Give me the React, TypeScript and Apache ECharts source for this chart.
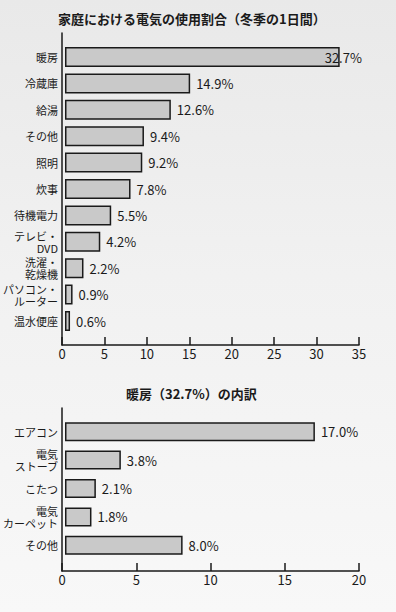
import React, { useEffect, useRef } from "react";
import * as echarts from "echarts";

const title1 = "家庭における電気の使用割合（冬季の1日間）";
const categories1 = ["暖房", "冷蔵庫", "給湯", "その他", "照明", "炊事", "待機電力", "テレビ・\nDVD", "洗濯・\n乾燥機", "パソコン・\nルーター", "温水便座"];
const values1 = [32.7, 14.9, 12.6, 9.4, 9.2, 7.8, 5.5, 4.2, 2.2, 0.9, 0.6];
const axisMax1 = 35;

const title2 = "暖房（32.7%）の内訳";
const categories2 = ["エアコン", "電気\nストーブ", "こたつ", "電気\nカーペット", "その他"];
const values2 = [17.0, 3.8, 2.1, 1.8, 8.0];
const axisMax2 = 20;

const tickInterval = 5;

const FONT = "'Noto Sans CJK JP', 'Noto Sans', sans-serif";
const INK = "#1a1a1a";

export default function App() {
  const ref = useRef<HTMLDivElement>(null);
  useEffect(() => {
    if (!ref.current) return;
    const chart = echarts.init(ref.current, null, { renderer: "svg" });
    const frameX = (gi: number, max: number) => ({
      type: "value",
      gridIndex: gi,
      min: 0,
      max,
      interval: tickInterval,
      axisLine: { show: true, lineStyle: { color: INK, width: 1.5 } },
      axisTick: { show: true, inside: true, length: 8, lineStyle: { color: INK, width: 1.5 } },
      axisLabel: { fontSize: 13, color: INK, margin: 2, fontFamily: FONT },
      splitLine: { show: false },
    });
    const frameY = (gi: number) => ({
      type: "value",
      gridIndex: gi,
      min: 0,
      max: 1,
      axisLine: { show: true, lineStyle: { color: INK, width: 1.5 } },
      axisTick: { show: false },
      axisLabel: { show: false },
      splitLine: { show: false },
    });
    const barX = (gi: number, max: number) => ({
      type: "value",
      gridIndex: gi,
      min: 0,
      max,
      show: false,
    });
    const barY = (gi: number, cats: string[]) => ({
      type: "category",
      gridIndex: gi,
      inverse: true,
      data: cats,
      axisLine: { show: false },
      axisTick: { show: false },
      axisLabel: { fontSize: 11, color: INK, margin: 7, lineHeight: 12, fontFamily: FONT },
    });
    const barSeries = (xi: number, vals: number[], width: number, firstOffset?: number) => ({
      type: "bar",
      xAxisIndex: xi,
      yAxisIndex: xi,
      barWidth: width,
      itemStyle: { color: "#c9c9c9", borderColor: INK, borderWidth: 1.5 },
      label: {
        show: true,
        position: "right",
        distance: 6,
        fontSize: 13,
        color: INK,
        fontFamily: FONT,
        formatter: (p: any) => Number(p.value).toFixed(1) + "%",
      },
      data: vals.map((v, i) =>
        i === 0 && firstOffset !== undefined
          ? { value: v, label: { offset: [firstOffset, 0] } }
          : v
      ),
    });
    chart.setOption({
      animation: false,
      backgroundColor: {
        type: "linear",
        x: 0, y: 0, x2: 0, y2: 1,
        colorStops: [
          { offset: 0, color: "#e9e9e9" },
          { offset: 0.45, color: "#f1f1f1" },
          { offset: 1, color: "#f8f8f8" },
        ],
      },
      textStyle: { fontFamily: FONT },
      title: [
        { text: title1, left: 53, top: 7, textStyle: { fontSize: 13, fontWeight: "bold", color: INK, fontFamily: FONT } },
        { text: title2, left: 121, top: 382, textStyle: { fontSize: 13, fontWeight: "bold", color: INK, fontFamily: FONT } },
      ],
      grid: [
        { left: 62, right: 37, top: 33, height: 312 },
        { left: 62, right: 37, top: 43.8, height: 290.4 },
        { left: 62, right: 37, top: 408, height: 163 },
        { left: 62, right: 37, top: 417.5, height: 142 },
      ],
      xAxis: [frameX(0, axisMax1), barX(1, axisMax1), frameX(2, axisMax2), barX(3, axisMax2)],
      yAxis: [frameY(0), barY(1, categories1), frameY(2), barY(3, categories2)],
      series: [
        barSeries(1, values1, 20, -21),
        barSeries(3, values2, 19),
      ],
    });
    return () => chart.dispose();
  }, []);
  return <div ref={ref} style={{ position: "fixed", left: 0, top: 0, width: 396, height: 612 }} />;
}
